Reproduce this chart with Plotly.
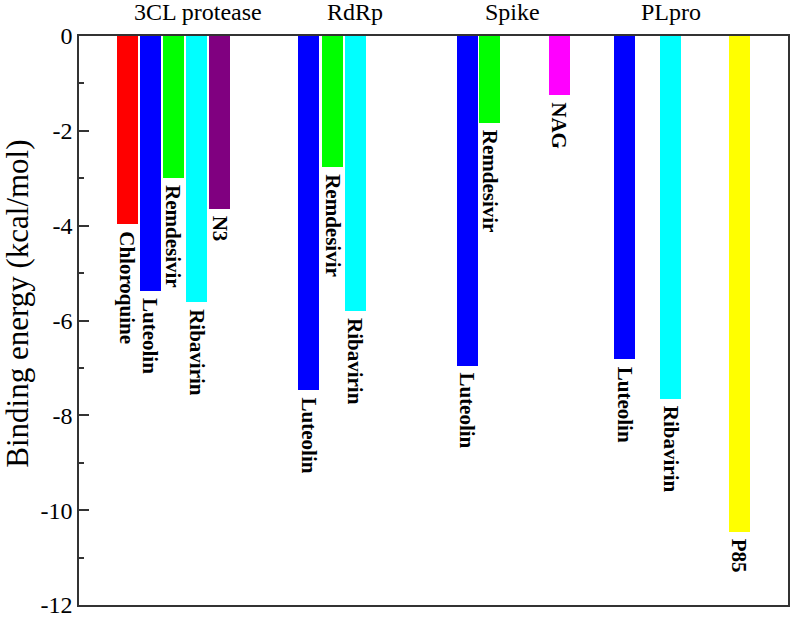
import plotly.graph_objects as go

# Data
targets = ["3CL protease", "3CL protease", "3CL protease", "3CL protease", "3CL protease",
           "RdRp", "RdRp", "RdRp",
           "Spike", "Spike", "Spike",
           "PLpro", "PLpro", "PLpro"]
ligands = ["Chloroquine", "Luteolin", "Remdesivir", "Ribavirin", "N3",
           "Luteolin", "Remdesivir", "Ribavirin",
           "Luteolin", "Remdesivir", "NAG",
           "Luteolin", "Ribavirin", "P85"]
energies = [-3.97, -5.37, -3.00, -5.62, -3.64,
            -7.47, -2.76, -5.80,
            -6.95, -1.83, -1.24,
            -6.82, -7.65, -10.45]
slots = [1, 2, 3, 4, 5,
         8.84, 9.86, 10.87,
         15.7, 16.67, 19.68,
         22.52, 24.5, 27.5]
group_names = ["3CL protease", "RdRp", "Spike", "PLpro"]
group_pos = [4.03, 10.85, 17.65, 24.53]
y_ticks = [0, -2, -4, -6, -8, -10, -12]
y_title = "Binding energy (kcal/mol)"

color_map = {"Chloroquine": "#ff0000", "Luteolin": "#0000ff", "Remdesivir": "#00ff00",
             "Ribavirin": "#00ffff", "N3": "#800080", "NAG": "#ff00ff", "P85": "#ffff00"}
colors = [color_map[l] for l in ligands]

FONT = "Liberation Serif"

fig = go.Figure()
fig.add_trace(go.Bar(
    x=slots, y=energies, width=0.91,
    marker=dict(color=colors, line=dict(width=0)),
    hovertext=[f"{t}: {l}" for t, l in zip(targets, ligands)],
    showlegend=False,
))

for xs, y, lab in zip(slots, energies, ligands):
    fig.add_annotation(x=xs, y=y, text=f"<b>{lab}</b>", showarrow=False,
                       textangle=90, xanchor="center", yanchor="top", yshift=-5,
                       font=dict(family=FONT, size=21, color="black"))

for name, gx in zip(group_names, group_pos):
    fig.add_annotation(x=gx, y=1, yref="paper", text=name, showarrow=False,
                       xanchor="center", yanchor="bottom", yshift=9,
                       font=dict(family=FONT, size=24, color="black"))

# y-axis title as rotated annotation
fig.add_annotation(x=-0.087, y=0.53, xref="paper", yref="paper", text=y_title,
                   showarrow=False, textangle=-90, xanchor="center", yanchor="middle",
                   borderpad=0,
                   font=dict(family=FONT, size=31, color="black"))

fig.update_layout(
    width=791, height=617,
    margin=dict(l=79, r=3, t=36, b=12, autoexpand=False),
    paper_bgcolor="white", plot_bgcolor="white",
    font=dict(family=FONT, color="black"),
    bargap=0,
)
fig.update_xaxes(range=[-1.1, 29.59], showticklabels=False, ticks="",
                 automargin=False,
                 showgrid=False, zeroline=False, showline=True, linecolor="#333333",
                 linewidth=1.5, mirror=True)
fig.update_yaxes(range=[-12, 0], tickvals=y_ticks, ticktext=[str(v) for v in y_ticks],
                 automargin=False, ticklabeloverflow="allow",
                 ticks="inside", ticklen=10, tickwidth=1.5, tickcolor="#333333",
                 minor=dict(ticks="inside", ticklen=5, tickwidth=1.5, tickcolor="#333333", dtick=1),
                 tickfont=dict(family=FONT, size=24, color="black"),
                 showgrid=False, zeroline=False, showline=True, linecolor="#333333",
                 linewidth=1.5, mirror=True)

fig.write_html("out.html", config={"displayModeBar": False},
               post_script="document.body.style.margin='0';document.body.style.overflow='hidden';")
